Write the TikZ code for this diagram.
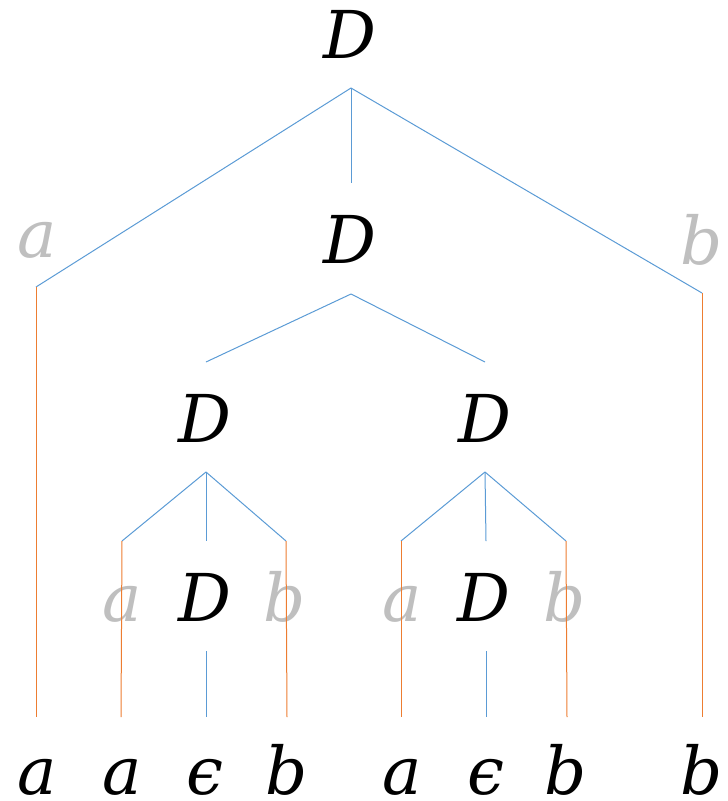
\documentclass[tikz,border=0pt]{standalone}
\usepackage{fontspec}
\newfontfamily\lblfont{DejaVu Serif}
\definecolor{treeblue}{HTML}{5B9BD5}
\definecolor{treeorange}{HTML}{ED7D31}
\definecolor{termgray}{HTML}{BFBFBF}
\tikzset{
  lbl/.style={font=\lblfont\itshape\fontsize{66}{66}\selectfont, inner sep=0pt, anchor=base},
  term/.style={lbl, text=black},
  ghost/.style={lbl, text=termgray},
  blueline/.style={draw=treeblue, line width=1pt},
  orangeline/.style={draw=treeorange, line width=1pt}
}
\begin{document}
\begin{tikzpicture}[x=1pt,y=-1pt]
\useasboundingbox (0,0) rectangle (728,801);
% labels
\node[term] (D0) at (350,58) {D};
\node[ghost] (gA0) at (37,257) {a};
\node[ghost] (gB0) at (702,264) {b};
\node[term] (D1) at (350,263) {D};
\node[term] (D2) at (205,442) {D};
\node[term] (D3) at (485,442) {D};
\node[ghost] (gA1) at (122,621) {a};
\node[term] (D4) at (205,621) {D};
\node[ghost] (gB1) at (285,621) {b};
\node[ghost] (gA2) at (402,621) {a};
\node[term] (D5) at (484,621) {D};
\node[ghost] (gB2) at (565,621) {b};
\node[term] (L1) at (37,794) {a};
\node[term] (L2) at (122,794) {a};
\node[term] (L3) at (205,794) {ϵ};
\node[term] (L4) at (287,794) {b};
\node[term] (L5) at (402,794) {a};
\node[term] (L6) at (486,794) {ϵ};
\node[term] (L7) at (566,794) {b};
\node[term] (L8) at (702,794) {b};
% branch points
\coordinate (r0) at (351,88);
\coordinate (r0l) at (36,287);
\coordinate (r0m) at (351,183);
\coordinate (r0r) at (702,293);
\coordinate (r1) at (351,294);
\coordinate (r1l) at (206,362);
\coordinate (r1r) at (485,362);
\coordinate (r2) at (206,472);
\coordinate (r2l) at (122,541);
\coordinate (r2m) at (206,541);
\coordinate (r2r) at (286,541);
\coordinate (r3) at (485,472);
\coordinate (r3l) at (401,541);
\coordinate (r3m) at (486,541);
\coordinate (r3r) at (566,541);
\coordinate (e1t) at (206,651);
\coordinate (e1b) at (206,717);
\coordinate (e2t) at (486,651);
\coordinate (e2b) at (486,717);
\coordinate (l1) at (36,717);
\coordinate (l2) at (121,717);
\coordinate (l4) at (287,717);
\coordinate (l5) at (401,717);
\coordinate (l7) at (567,717);
\coordinate (l8) at (702,717);
% blue tree edges
\draw[blueline] (r0) -- (r0l);
\draw[blueline] (r0) -- (r0m);
\draw[blueline] (r0) -- (r0r);
\draw[blueline] (r1) -- (r1l);
\draw[blueline] (r1) -- (r1r);
\draw[blueline] (r2) -- (r2l);
\draw[blueline] (r2) -- (r2m);
\draw[blueline] (r2) -- (r2r);
\draw[blueline] (r3) -- (r3l);
\draw[blueline] (r3) -- (r3m);
\draw[blueline] (r3) -- (r3r);
\draw[blueline] (e1t) -- (e1b);
\draw[blueline] (e2t) -- (e2b);
% orange terminal edges
\draw[orangeline] (r0l) -- (l1);
\draw[orangeline] (r2l) -- (l2);
\draw[orangeline] (r2r) -- (l4);
\draw[orangeline] (r3l) -- (l5);
\draw[orangeline] (r3r) -- (l7);
\draw[orangeline] (r0r) -- (l8);
\end{tikzpicture}
\end{document}
